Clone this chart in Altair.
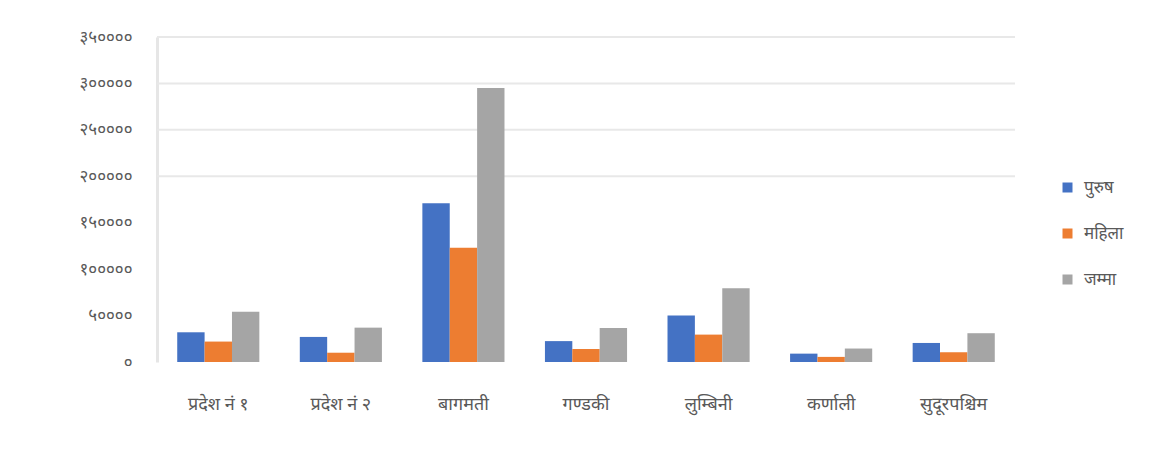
import altair as alt
import pandas as pd

categories = ["प्रदेश नं १", "प्रदेश नं २", "बागमती", "गण्डकी", "लुम्बिनी", "कर्णाली", "सुदूरपश्चिम"]
series = ["पुरुष", "महिला", "जम्मा"]
male = [32000, 27000, 171000, 22500, 50000, 9000, 20500]
female = [22000, 10000, 123000, 14000, 29500, 5500, 10500]
total = [54000, 37000, 295000, 36500, 79500, 14500, 31000]
colors = ["#4472C4", "#ED7D31", "#A5A5A5"]
y_ticks = [0, 50000, 100000, 150000, 200000, 250000, 300000, 350000]
y_tick_labels = ["०", "५००००", "१०००००", "१५००००", "२०००००", "२५००००", "३०००००", "३५००००"]
grid_values = [200000, 250000, 300000, 350000]

rows = []
for i, c in enumerate(categories):
    for s, vals in zip(series, [male, female, total]):
        rows.append({"cat": c, "series": s, "value": vals[i]})
df = pd.DataFrame(rows)

label_expr = "".join(
    f"datum.value == {v} ? '{l}' : " for v, l in zip(y_ticks, y_tick_labels)
) + "''"

FONT = "Noto Sans Devanagari, Lohit Devanagari, Noto Sans, sans-serif"
W, H = 858, 325

bars = alt.Chart(df).mark_bar().encode(
    x=alt.X("cat:N", sort=categories, title=None,
            scale=alt.Scale(paddingInner=0.33, paddingOuter=0.165),
            axis=alt.Axis(labelAngle=0, domain=False, ticks=False, labelPadding=33,
                          labelFontSize=18, labelColor="#595959", labelFont=FONT)),
    xOffset=alt.XOffset("series:N", sort=series),
    y=alt.Y("value:Q", title=None,
            scale=alt.Scale(domain=[0, 350000]),
            axis=alt.Axis(values=y_ticks, labelExpr=label_expr, grid=False, ticks=False,
                          domain=True, domainColor="#e6e6e6", domainWidth=3,
                          labelPadding=25, labelFontSize=17, labelColor="#595959",
                          labelFont=FONT)),
    color=alt.Color("series:N", sort=series,
                    scale=alt.Scale(domain=series, range=colors),
                    legend=alt.Legend(title=None, orient="none", legendX=902, legendY=142,
                                      symbolType="square", symbolSize=100, labelFontSize=17,
                                      labelColor="#595959", labelFont=FONT, rowPadding=28,
                                      labelOffset=8, symbolStrokeWidth=0)),
)

grid = alt.Chart(pd.DataFrame({"g": grid_values})).mark_rule(
    color="#e8e8e8", strokeWidth=2
).encode(y="g:Q")

chart = alt.layer(grid, bars).properties(
    width=W, height=H,
    autosize=alt.AutoSizeParams(type="none"),
    padding={"left": 149, "top": 29, "right": 133, "bottom": 70},
).configure(background="white").configure_view(strokeWidth=0, stroke="transparent")

chart.save("out.html", embed_options={"renderer": "svg", "actions": False})
